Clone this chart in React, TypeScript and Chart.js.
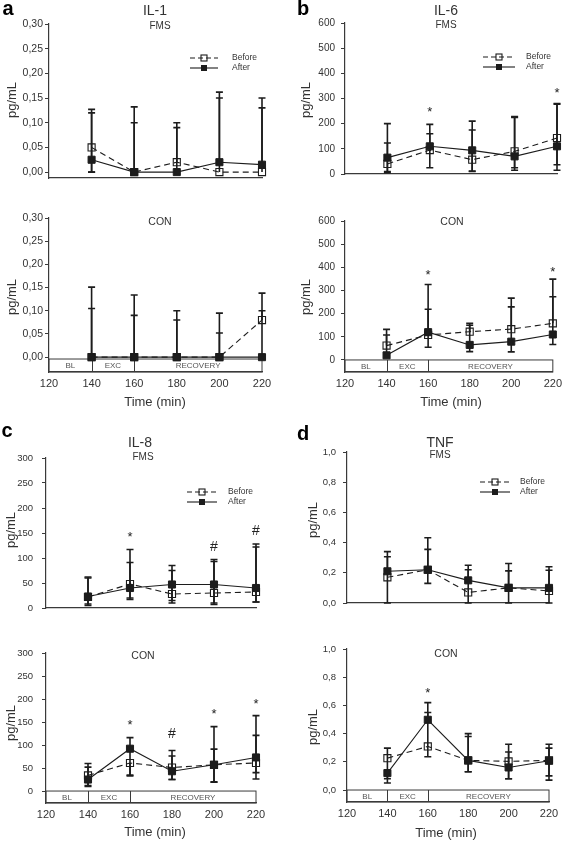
import React, { useEffect, useRef } from 'react';
import { Chart, registerables } from 'chart.js';

Chart.register(...registerables);

// ---------- data ----------
const timePoints = [140, 160, 180, 200, 220];
const xTickValues = [120, 140, 160, 180, 200, 220];
const phaseNames = ['BL', 'EXC', 'RECOVERY'];
const phaseBounds = [120, 140, 160, 220];

const il1Ticks = [0, 0.05, 0.1, 0.15, 0.2, 0.25, 0.3];
const il6Ticks = [0, 100, 200, 300, 400, 500, 600];
const il8Ticks = [0, 50, 100, 150, 200, 250, 300];
const tnfTicks = [0, 0.2, 0.4, 0.6, 0.8, 1.0];

// IL-1 FMS
const il1FmsBefore = [0.05, 0, 0.02, 0, 0];
const il1FmsBeforeHi = [0.127, 0.1, 0.1, 0.15, 0.13];
const il1FmsBeforeLo = [0, 0, 0.02, 0, 0];
const il1FmsAfter = [0.025, 0, 0, 0.02, 0.015];
const il1FmsAfterHi = [0.12, 0.132, 0.09, 0.162, 0.15];
const il1FmsAfterLo = [0, 0, 0, 0.02, 0.015];
// IL-1 CON
const il1ConBefore = [0, 0, 0, 0, 0.08];
const il1ConBeforeHi = [0.105, 0.09, 0.08, 0.052, 0.138];
const il1ConBeforeLo = [0, 0, 0, 0, 0.08];
const il1ConAfter = [0, 0, 0, 0, 0];
const il1ConAfterHi = [0.151, 0.134, 0.1, 0.095, 0.1];
const il1ConAfterLo = [0, 0, 0, 0, 0];

// IL-6 FMS
const il6FmsBefore = [40, 95, 57, 90, 143];
const il6FmsBeforeHi = [123, 160, 175, 225, 280];
const il6FmsBeforeLo = [10, 25, 10, 25, 37];
const il6FmsAfter = [65, 110, 94, 70, 110];
const il6FmsAfterHi = [200, 197, 210, 228, 277];
const il6FmsAfterLo = [5, 110, 12, 15, 15];
const il6FmsMarks: [number, number, string][] = [[160, 258, '*'], [220, 335, '*']];
// IL-6 CON
const il6ConBefore = [62, 108, 122, 133, 158];
const il6ConBeforeHi = [132, 219, 158, 267, 273];
const il6ConBeforeLo = [62, 108, 122, 133, 158];
const il6ConAfter = [20, 120, 65, 79, 110];
const il6ConAfterHi = [108, 326, 150, 229, 349];
const il6ConAfterLo = [20, 55, 36, 35, 67];
const il6ConMarks: [number, number, string][] = [[160, 383, '*'], [220, 395, '*']];

// IL-8 FMS
const il8FmsBefore = [22, 48, 28, 30, 32];
const il8FmsBeforeHi = [60, 117, 75, 93, 122];
const il8FmsBeforeLo = [5, 17, 10, 7, 12];
const il8FmsAfter = [23, 40, 47, 47, 40];
const il8FmsAfterHi = [62, 91, 85, 97, 128];
const il8FmsAfterLo = [8, 20, 15, 10, 12];
const il8FmsMarks: [number, number, string][] = [[160, 149, '*'], [200, 125, '#'], [220, 157, '#']];
// IL-8 CON
const il8ConBefore = [34, 61, 51, 57, 61];
const il8ConBeforeHi = [60, 61, 76, 91, 121];
const il8ConBeforeLo = [10, 33, 25, 19, 40];
const il8ConAfter = [25, 92, 43, 57, 73];
const il8ConAfterHi = [52, 116, 88, 140, 164];
const il8ConAfterLo = [12, 35, 25, 20, 26];
const il8ConMarks: [number, number, string][] = [[160, 152, '*'], [180, 126, '#'], [200, 174, '*'], [220, 196, '*']];

// TNF FMS
const tnfFmsBefore = [0.17, 0.22, 0.07, 0.1, 0.08];
const tnfFmsBeforeHi = [0.306, 0.355, 0.22, 0.213, 0.217];
const tnfFmsBeforeLo = [0, 0.13, 0, 0, 0];
const tnfFmsAfter = [0.21, 0.22, 0.15, 0.1, 0.1];
const tnfFmsAfterHi = [0.34, 0.432, 0.25, 0.262, 0.24];
const tnfFmsAfterLo = [0.21, 0.22, 0.15, 0.1, 0.1];
// TNF CON
const tnfConBefore = [0.226, 0.309, 0.21, 0.203, 0.21];
const tnfConBeforeHi = [0.297, 0.55, 0.38, 0.27, 0.297];
const tnfConBeforeLo = [0.08, 0.236, 0.13, 0.08, 0.1];
const tnfConAfter = [0.12, 0.498, 0.21, 0.16, 0.208];
const tnfConAfterHi = [0.12, 0.62, 0.4, 0.325, 0.325];
const tnfConAfterLo = [0.05, 0.498, 0.13, 0.08, 0.07];
const tnfConMarks: [number, number, string][] = [[160, 0.71, '*']];

// ---------- styling / layout ----------
const FONT = '"Liberation Sans", Arial, Helvetica, sans-serif';
const INK = '#1c1c1c';
const AXIS = '#3a3a3a';
const LABEL = '#333333';

type Series = { values: number[]; hi: number[]; lo: number[] };
// y is the baseline for non-rotated text; the centre for rotated text
type TextItem = { t: string; x: number; y: number; size: number; bold?: boolean; rot?: boolean; color?: string };
type PanelCfg = {
  canvas: [number, number, number, number];
  area: [number, number, number, number];
  yMin: number;
  yMax: number;
  yTicks: number[];
  decimals: number;
  tickPad: number;
  tickFont: number;
  before: Series;
  after: Series;
  marks: [number, number, string][];
  bottom: boolean;
  boxTop: number;
  texts: TextItem[];
  legend?: { x1: number; x2: number; y1: number; y2: number; tx: number };
};

const yTitle = 'pg/mL';
const xTitle = 'Time (min)';

const panels: PanelCfg[] = [
  {
    canvas: [0, 0, 283, 200], area: [49, 262, 24, 178], yMin: -0.012, yMax: 0.3, yTicks: il1Ticks, decimals: 2, tickPad: 2, tickFont: 10.5,
    before: { values: il1FmsBefore, hi: il1FmsBeforeHi, lo: il1FmsBeforeLo },
    after: { values: il1FmsAfter, hi: il1FmsAfterHi, lo: il1FmsAfterLo },
    marks: [], bottom: false, boxTop: 0,
    texts: [
      { t: 'a', x: 8, y: 15, size: 20, bold: true, color: '#000' },
      { t: 'IL-1', x: 155, y: 15, size: 14 },
      { t: 'FMS', x: 160, y: 28.5, size: 10 },
      { t: yTitle, x: 12, y: 100, size: 13, rot: true },
    ],
    legend: { x1: 190, x2: 218, y1: 58, y2: 68, tx: 232 },
  },
  {
    canvas: [0, 200, 283, 220], area: [49, 262, 218, 372], yMin: -0.032, yMax: 0.3, yTicks: il1Ticks, decimals: 2, tickPad: 2, tickFont: 10.5,
    before: { values: il1ConBefore, hi: il1ConBeforeHi, lo: il1ConBeforeLo },
    after: { values: il1ConAfter, hi: il1ConAfterHi, lo: il1ConAfterLo },
    marks: [], bottom: true, boxTop: -0.004,
    texts: [
      { t: 'CON', x: 160, y: 224.5, size: 10.5 },
      { t: yTitle, x: 12, y: 297, size: 13, rot: true },
      { t: xTitle, x: 155, y: 406, size: 13 },
    ],
  },
  {
    canvas: [283, 0, 284, 200], area: [345, 557, 23, 174], yMin: 0, yMax: 600, yTicks: il6Ticks, decimals: 0, tickPad: 6, tickFont: 10,
    before: { values: il6FmsBefore, hi: il6FmsBeforeHi, lo: il6FmsBeforeLo },
    after: { values: il6FmsAfter, hi: il6FmsAfterHi, lo: il6FmsAfterLo },
    marks: il6FmsMarks, bottom: false, boxTop: 0,
    texts: [
      { t: 'b', x: 303, y: 15, size: 20, bold: true, color: '#000' },
      { t: 'IL-6', x: 446, y: 14.5, size: 14 },
      { t: 'FMS', x: 446, y: 27.5, size: 10 },
      { t: yTitle, x: 306, y: 100, size: 13, rot: true },
    ],
    legend: { x1: 483, x2: 515, y1: 57, y2: 67, tx: 526 },
  },
  {
    canvas: [283, 200, 284, 220], area: [345, 557, 221, 372], yMin: -52, yMax: 600, yTicks: il6Ticks, decimals: 0, tickPad: 6, tickFont: 10,
    before: { values: il6ConBefore, hi: il6ConBeforeHi, lo: il6ConBeforeLo },
    after: { values: il6ConAfter, hi: il6ConAfterHi, lo: il6ConAfterLo },
    marks: il6ConMarks, bottom: true, boxTop: 0,
    texts: [
      { t: 'CON', x: 452, y: 224.5, size: 10.5 },
      { t: yTitle, x: 306, y: 297, size: 13, rot: true },
      { t: xTitle, x: 451, y: 406, size: 13 },
    ],
  },
  {
    canvas: [0, 420, 283, 210], area: [46, 256, 458, 608], yMin: 0, yMax: 300, yTicks: il8Ticks, decimals: 0, tickPad: 9, tickFont: 9.5,
    before: { values: il8FmsBefore, hi: il8FmsBeforeHi, lo: il8FmsBeforeLo },
    after: { values: il8FmsAfter, hi: il8FmsAfterHi, lo: il8FmsAfterLo },
    marks: il8FmsMarks, bottom: false, boxTop: 0,
    texts: [
      { t: 'c', x: 7, y: 437, size: 20, bold: true, color: '#000' },
      { t: 'IL-8', x: 140, y: 447, size: 14 },
      { t: 'FMS', x: 143, y: 460, size: 10 },
      { t: yTitle, x: 11, y: 530, size: 13, rot: true },
    ],
    legend: { x1: 187, x2: 217, y1: 492, y2: 502, tx: 228 },
  },
  {
    canvas: [0, 630, 283, 212], area: [46, 256, 653, 803], yMin: -26, yMax: 300, yTicks: il8Ticks, decimals: 0, tickPad: 9, tickFont: 9.5,
    before: { values: il8ConBefore, hi: il8ConBeforeHi, lo: il8ConBeforeLo },
    after: { values: il8ConAfter, hi: il8ConAfterHi, lo: il8ConAfterLo },
    marks: il8ConMarks, bottom: true, boxTop: 0,
    texts: [
      { t: 'CON', x: 143, y: 659, size: 10.5 },
      { t: yTitle, x: 11, y: 723, size: 13, rot: true },
      { t: xTitle, x: 155, y: 836, size: 13 },
    ],
  },
  {
    canvas: [283, 420, 284, 210], area: [347, 549, 452, 603], yMin: 0, yMax: 1, yTicks: tnfTicks, decimals: 1, tickPad: 7, tickFont: 9.5,
    before: { values: tnfFmsBefore, hi: tnfFmsBeforeHi, lo: tnfFmsBeforeLo },
    after: { values: tnfFmsAfter, hi: tnfFmsAfterHi, lo: tnfFmsAfterLo },
    marks: [], bottom: false, boxTop: 0,
    texts: [
      { t: 'd', x: 303, y: 440, size: 20, bold: true, color: '#000' },
      { t: 'TNF', x: 440, y: 447, size: 14 },
      { t: 'FMS', x: 440, y: 457.5, size: 10 },
      { t: yTitle, x: 313, y: 520, size: 13, rot: true },
    ],
    legend: { x1: 480, x2: 510, y1: 482, y2: 492, tx: 520 },
  },
  {
    canvas: [283, 630, 284, 212], area: [347, 549, 649, 802], yMin: -0.085, yMax: 1, yTicks: tnfTicks, decimals: 1, tickPad: 7, tickFont: 9.5,
    before: { values: tnfConBefore, hi: tnfConBeforeHi, lo: tnfConBeforeLo },
    after: { values: tnfConAfter, hi: tnfConAfterHi, lo: tnfConAfterLo },
    marks: tnfConMarks, bottom: true, boxTop: 0,
    texts: [
      { t: 'CON', x: 446, y: 657, size: 10.5 },
      { t: yTitle, x: 313, y: 727, size: 13, rot: true },
      { t: xTitle, x: 446, y: 837, size: 13 },
    ],
  },
];

function drawSquare(ctx: CanvasRenderingContext2D, x: number, y: number, s: number, filled: boolean) {
  if (filled) {
    ctx.fillStyle = INK;
    ctx.fillRect(x - s / 2, y - s / 2, s, s);
  } else {
    ctx.strokeStyle = INK;
    ctx.lineWidth = 1.1;
    ctx.strokeRect(x - s / 2, y - s / 2, s, s);
  }
}

function Panel({ cfg }: { cfg: PanelCfg }) {
  const ref = useRef<HTMLCanvasElement>(null);
  useEffect(() => {
    const [cx, cy, cw, ch] = cfg.canvas;
    const [L, R, T, B] = cfg.area;
    const fmt = (v: number) => v.toFixed(cfg.decimals).replace('.', ',');

    const deco = {
      id: 'deco',
      beforeDatasetsDraw(chart: any) {
        const ctx: CanvasRenderingContext2D = chart.ctx;
        const xs = chart.scales.x;
        const ys = chart.scales.y;
        ctx.save();
        // phase box
        if (cfg.bottom) {
          const x0 = xs.getPixelForValue(phaseBounds[0]);
          const x1 = xs.getPixelForValue(phaseBounds[phaseBounds.length - 1]);
          const yT = ys.getPixelForValue(cfg.boxTop);
          const yB = chart.chartArea.bottom;
          ctx.strokeStyle = AXIS;
          ctx.lineWidth = 1;
          ctx.strokeRect(x0, yT, x1 - x0, yB - yT);
          ctx.beginPath();
          for (let k = 1; k < phaseBounds.length - 1; k++) {
            const xv = Math.round(xs.getPixelForValue(phaseBounds[k])) + 0.5;
            ctx.moveTo(xv, yT);
            ctx.lineTo(xv, yB);
          }
          ctx.stroke();
          ctx.fillStyle = '#555';
          ctx.font = `8px ${FONT}`;
          ctx.textAlign = 'center';
          ctx.textBaseline = 'middle';
          for (let k = 0; k < phaseNames.length; k++) {
            const xm = xs.getPixelForValue((phaseBounds[k] + phaseBounds[k + 1]) / 2);
            ctx.fillText(phaseNames[k], xm, (yT + yB) / 2 + 0.5);
          }
        }
        // error bars
        ctx.strokeStyle = INK;
        ctx.lineWidth = 1.6;
        const cap = 3.5;
        for (const s of [cfg.before, cfg.after]) {
          timePoints.forEach((t, i) => {
            const x = xs.getPixelForValue(t);
            const yv = ys.getPixelForValue(s.values[i]);
            const yh = ys.getPixelForValue(s.hi[i]);
            const yl = ys.getPixelForValue(s.lo[i]);
            ctx.beginPath();
            if (s.hi[i] > s.values[i]) {
              ctx.moveTo(x, yv);
              ctx.lineTo(x, yh);
              ctx.moveTo(x - cap, yh);
              ctx.lineTo(x + cap, yh);
            }
            if (s.lo[i] < s.values[i]) {
              ctx.moveTo(x, yv);
              ctx.lineTo(x, yl);
              ctx.moveTo(x - cap, yl);
              ctx.lineTo(x + cap, yl);
            }
            ctx.stroke();
          });
        }
        ctx.restore();
      },
      afterDatasetsDraw(chart: any) {
        const ctx: CanvasRenderingContext2D = chart.ctx;
        const xs = chart.scales.x;
        const ys = chart.scales.y;
        ctx.save();
        // significance marks
        ctx.fillStyle = '#222';
        ctx.textAlign = 'center';
        ctx.textBaseline = 'alphabetic';
        for (const [t, v, sym] of cfg.marks) {
          const x = xs.getPixelForValue(t);
          const y = ys.getPixelForValue(v);
          const size = sym === '*' ? 13 : 14;
          ctx.font = `${size}px ${FONT}`;
          ctx.fillText(sym, x, y + (sym === '*' ? 0.57 : 0.36) * size);
        }
        // texts
        for (const tx of cfg.texts) {
          ctx.fillStyle = tx.color || LABEL;
          ctx.font = `${tx.bold ? 'bold ' : ''}${tx.size}px ${FONT}`;
          ctx.textAlign = 'center';
          const x = tx.x - cx;
          const y = tx.y - cy;
          if (tx.rot) {
            ctx.textBaseline = 'middle';
            ctx.save();
            ctx.translate(x, y);
            ctx.rotate(-Math.PI / 2);
            ctx.fillText(tx.t, 0, 0);
            ctx.restore();
          } else {
            ctx.textBaseline = 'alphabetic';
            ctx.fillText(tx.t, x, y);
          }
        }
        // legend
        if (cfg.legend) {
          const lg = cfg.legend;
          const x1 = lg.x1 - cx, x2 = lg.x2 - cx, y1 = lg.y1 - cy, y2 = lg.y2 - cy, tx = lg.tx - cx;
          const xm = (x1 + x2) / 2;
          ctx.strokeStyle = INK;
          ctx.lineWidth = 1.1;
          ctx.setLineDash([5, 3]);
          ctx.beginPath();
          ctx.moveTo(x1, y1);
          ctx.lineTo(x2, y1);
          ctx.stroke();
          ctx.setLineDash([]);
          drawSquare(ctx, xm, y1, 6, false);
          ctx.strokeStyle = INK;
          ctx.lineWidth = 1.1;
          ctx.beginPath();
          ctx.moveTo(x1, y2);
          ctx.lineTo(x2, y2);
          ctx.stroke();
          drawSquare(ctx, xm, y2, 6, true);
          ctx.fillStyle = LABEL;
          ctx.font = `8.5px ${FONT}`;
          ctx.textAlign = 'left';
          ctx.textBaseline = 'middle';
          ctx.fillText('Before', tx, y1);
          ctx.fillText('After', tx, y2);
        }
        ctx.restore();
      },
    };

    const chart = new Chart(ref.current as HTMLCanvasElement, {
      type: 'line',
      data: {
        datasets: [
          {
            label: 'After',
            data: timePoints.map((t, i) => ({ x: t, y: cfg.after.values[i] })),
            borderColor: INK,
            borderWidth: 1.1,
            pointStyle: 'rect',
            pointRadius: 5,
            pointBackgroundColor: INK,
            pointBorderColor: INK,
            pointBorderWidth: 1,
            clip: false,
            tension: 0,
          } as any,
          {
            label: 'Before',
            data: timePoints.map((t, i) => ({ x: t, y: cfg.before.values[i] })),
            borderColor: INK,
            borderWidth: 1.1,
            borderDash: [6, 4],
            pointStyle: 'rect',
            pointRadius: 5,
            pointBackgroundColor: 'rgba(255,255,255,0)',
            pointBorderColor: INK,
            pointBorderWidth: 1.1,
            clip: false,
            tension: 0,
          } as any,
        ],
      },
      options: {
        responsive: false,
        animation: false,
        events: [],
        layout: { autoPadding: false, padding: { left: 0, right: cx + cw - R, top: T - cy, bottom: 0 } },
        plugins: { legend: { display: false }, tooltip: { enabled: false }, title: { display: false } },
        scales: {
          x: {
            type: 'linear',
            min: 120,
            max: 220,
            afterBuildTicks: (s: any) => {
              s.ticks = xTickValues.map((v) => ({ value: v }));
            },
            afterFit: (s: any) => {
              s.height = cy + ch - B;
            },
            ticks: {
              display: cfg.bottom,
              autoSkip: false,
              maxRotation: 0,
              padding: 5,
              color: LABEL,
              font: { family: FONT, size: 11 },
            },
            grid: { display: true, drawOnChartArea: false, drawTicks: false },
            border: { display: true, color: AXIS, width: 1.2 },
          },
          y: {
            type: 'linear',
            min: cfg.yMin,
            max: cfg.yMax,
            afterBuildTicks: (s: any) => {
              s.ticks = cfg.yTicks.map((v) => ({ value: v }));
            },
            afterFit: (s: any) => {
              s.width = L - cx;
            },
            ticks: {
              autoSkip: false,
              padding: cfg.tickPad,
              color: LABEL,
              font: { family: FONT, size: cfg.tickFont },
              callback: (v: any) => fmt(Number(v)),
            },
            grid: { display: true, drawOnChartArea: false, drawTicks: true, tickLength: 4, color: AXIS, lineWidth: 1 },
            border: { display: true, color: AXIS, width: 1.2 },
          },
        },
      },
      plugins: [deco],
    } as any);
    return () => chart.destroy();
  }, [cfg]);
  const [cx, cy, cw, ch] = cfg.canvas;
  return (
    <canvas
      ref={ref}
      width={cw}
      height={ch}
      style={{ position: 'absolute', left: cx, top: cy, width: cw, height: ch }}
    />
  );
}

export default function App() {
  return (
    <div style={{ position: 'absolute', left: 0, top: 0, width: 567, height: 842, background: '#fff', overflow: 'hidden' }}>
      {panels.map((p, i) => (
        <Panel key={i} cfg={p} />
      ))}
    </div>
  );
}
